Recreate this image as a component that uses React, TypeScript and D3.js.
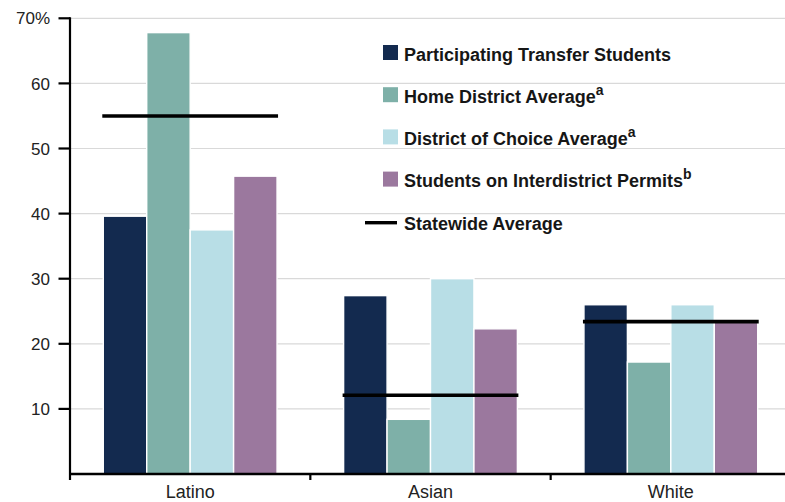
import React from "react";
import * as d3 from "d3";

const categories = ["Latino", "Asian", "White"];
const seriesNames = [
  "Participating Transfer Students",
  "Home District Average",
  "District of Choice Average",
  "Students on Interdistrict Permits",
];
const seriesSup = ["", "a", "a", "b"];
const participating = [39.6, 27.4, 26.0];
const homeDistrict = [67.8, 8.4, 17.2];
const districtOfChoice = [37.5, 30.0, 26.0];
const interdistrictPermits = [45.75, 22.3, 23.3];
const statewide = [55.0, 12.1, 23.4];
const yTicks = [10, 20, 30, 40, 50, 60, 70];
const statewideLabel = "Statewide Average";

const colors = ["#132a4f", "#7eb0a8", "#b8dee6", "#9b789e"];
const seriesValues = [participating, homeDistrict, districtOfChoice, interdistrictPermits];

const W = 785;
const H = 502;
const FONT = "'Liberation Sans', Arial, Helvetica, sans-serif";

export default function App() {
  const x0 = d3.scaleBand<string>().domain(categories).range([70, 791]).padding(0);
  const bw = x0.bandwidth();
  const x1 = d3
    .scaleBand<string>()
    .domain(seriesNames)
    .range([bw * 0.1385, bw * 0.8615])
    .padding(0);
  const y = d3.scaleLinear().domain([0, 70]).range([474, 18.3]);

  return (
    <svg
      width={W}
      height={H}
      style={{ position: "absolute", left: 0, top: 0, background: "#fff" }}
      fontFamily={FONT}
    >
      {/* gridlines */}
      {yTicks.map((t) => (
        <line key={"g" + t} x1={70} x2={W} y1={y(t)} y2={y(t)} stroke="#d9d9d9" strokeWidth={1.2} />
      ))}
      {/* bars */}
      {categories.map((c, ci) => (
        <g key={c} transform={`translate(${x0(c)},0)`}>
          {seriesNames.map((s, si) => {
            const v = seriesValues[si][ci];
            return (
              <rect
                key={s}
                x={x1(s)!}
                y={y(v)}
                width={x1.bandwidth()}
                height={y(0) - y(v)}
                fill={colors[si]}
                stroke="#ffffff"
                strokeWidth={1.4}
              />
            );
          })}
          <line
            x1={x1(seriesNames[0])! - 1}
            x2={x1(seriesNames[3])! + x1.bandwidth() + 1}
            y1={y(statewide[ci])}
            y2={y(statewide[ci])}
            stroke="#000"
            strokeWidth={3.6}
          />
        </g>
      ))}
      {/* y axis */}
      <line x1={70} x2={70} y1={y(70) - 1} y2={480} stroke="#000" strokeWidth={2.2} />
      {yTicks.map((t) => (
        <g key={"t" + t}>
          <line x1={58.5} x2={70} y1={y(t)} y2={y(t)} stroke="#000" strokeWidth={2.2} />
          <text x={50} y={y(t)} dy="0.36em" textAnchor="end" fontSize={17} fill="#222">
            {t === 70 ? "70%" : String(t)}
          </text>
        </g>
      ))}
      {/* x axis */}
      <line x1={69} x2={W} y1={y(0)} y2={y(0)} stroke="#000" strokeWidth={2.4} />
      {categories.slice(1).map((c) => (
        <line key={"xt" + c} x1={x0(c)!} x2={x0(c)!} y1={y(0)} y2={480} stroke="#000" strokeWidth={2.2} />
      ))}
      {categories.map((c) => (
        <text key={"xl" + c} x={x0(c)! + bw / 2} y={498} textAnchor="middle" fontSize={18} fill="#222">
          {c}
        </text>
      ))}
      {/* legend */}
      {seriesNames.map((s, i) => {
        const top = 45 + i * 42.2;
        return (
          <g key={"lg" + s}>
            <rect x={383} y={top} width={15} height={15} fill={colors[i]} />
            <text x={404} y={top + 15.5} fontSize={18} fontWeight="bold" fill="#161616">
              {s}
              {seriesSup[i] && (
                <tspan fontSize={14} dy={-8}>
                  {seriesSup[i]}
                </tspan>
              )}
            </text>
          </g>
        );
      })}
      <line x1={365} x2={397} y1={222.7} y2={222.7} stroke="#000" strokeWidth={3.4} />
      <text x={404} y={230} fontSize={18} fontWeight="bold" fill="#161616">
        {statewideLabel}
      </text>
    </svg>
  );
}
